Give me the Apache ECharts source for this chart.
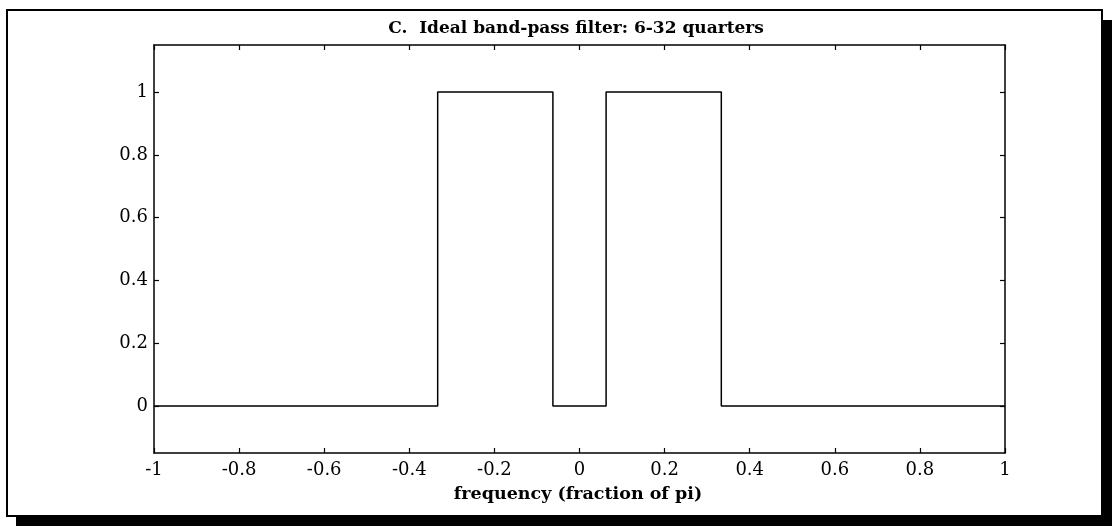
<!DOCTYPE html>
<html>
<head>
<meta charset="utf-8">
<script src="https://cdn.jsdelivr.net/npm/echarts@6/dist/echarts.min.js"></script>
<style>
  html, body { margin: 0; padding: 0; background: #fff; }
  #chart { width: 1112px; height: 526px; }
</style>
</head>
<body>
<div id="chart"></div>
<script>
// Ideal band-pass filter gain, passing periods of 6 to 32 quarters.
// Vertices of the step response along frequency (fraction of pi).
const freq = [-1, -0.3333, -0.3333, -0.0625, -0.0625, 0.0625, 0.0625, 0.3333, 0.3333, 1];
const gain = [0, 0, 1, 1, 0, 0, 1, 1, 0, 0];

const xTicks = [-1, -0.8, -0.6, -0.4, -0.2, 0, 0.2, 0.4, 0.6, 0.8, 1];
const yTicks = [0, 0.2, 0.4, 0.6, 0.8, 1];

const titleText = 'C.  Ideal band-pass filter: 6-32 quarters';
const xAxisTitle = 'frequency (fraction of pi)';

const serif = '"DejaVu Serif", "Liberation Serif", serif';
const fmt = v => String(Math.round(v * 10) / 10);

const chart = echarts.init(document.getElementById('chart'), null, { renderer: 'canvas' });

const axisLine = { show: true, onZero: false, lineStyle: { color: '#000', width: 1.5 } };
const inTick = { show: true, inside: true, length: 5, lineStyle: { color: '#000', width: 1.2 } };

chart.setOption({
  backgroundColor: '#fff',
  animation: false,
  grid: { left: 154, right: 107, top: 45, bottom: 73 },
  xAxis: [
    {
      type: 'value', min: -1, max: 1, position: 'bottom',
      axisLine: axisLine,
      axisTick: Object.assign({}, inTick, { customValues: xTicks }),
      axisLabel: { customValues: xTicks, formatter: fmt, margin: 8,
        fontFamily: serif, fontSize: 18, color: '#000' },
      splitLine: { show: false }
    },
    {
      type: 'value', min: -1, max: 1, position: 'top',
      axisLine: axisLine,
      axisTick: Object.assign({}, inTick, { customValues: xTicks }),
      axisLabel: { show: false },
      splitLine: { show: false }
    }
  ],
  yAxis: [
    {
      type: 'value', min: -0.15, max: 1.15, position: 'left',
      axisLine: axisLine,
      axisTick: Object.assign({}, inTick, { customValues: yTicks }),
      axisLabel: { customValues: yTicks, formatter: fmt, margin: 6,
        fontFamily: serif, fontSize: 18, color: '#000' },
      splitLine: { show: false }
    },
    {
      type: 'value', min: -0.15, max: 1.15, position: 'right',
      axisLine: axisLine,
      axisTick: Object.assign({}, inTick, { customValues: yTicks }),
      axisLabel: { show: false },
      splitLine: { show: false }
    }
  ],
  series: [{
    type: 'line',
    data: freq.map((f, i) => [f, gain[i]]),
    showSymbol: false,
    lineStyle: { color: '#000', width: 1.5 },
    silent: true
  }],
  graphic: [
    // page frame with drop shadow
    { type: 'rect', z: -1, shape: { x: 1103, y: 20, width: 9, height: 506 }, style: { fill: '#000' } },
    { type: 'rect', z: -1, shape: { x: 16, y: 516, width: 1096, height: 10 }, style: { fill: '#000' } },
    { type: 'rect', z: -1, shape: { x: 7, y: 10, width: 1095, height: 506 },
      style: { fill: 'none', stroke: '#000', lineWidth: 2 } },
    { type: 'text', x: 576, y: 29,
      style: { text: titleText, fontFamily: serif, fontWeight: 'bold', fontSize: 17,
        fill: '#000', align: 'center', verticalAlign: 'middle' } },
    { type: 'text', x: 578, y: 494,
      style: { text: xAxisTitle, fontFamily: serif, fontWeight: 'bold', fontSize: 17.5,
        fill: '#000', align: 'center', verticalAlign: 'middle' } }
  ]
});
</script>
</body>
</html>
